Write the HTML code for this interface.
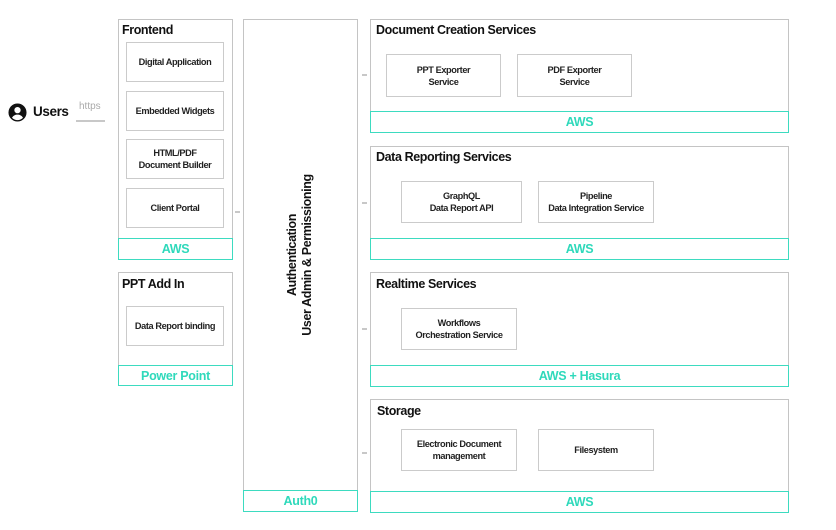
<!DOCTYPE html>
<html><head><meta charset="utf-8"><style>
body{margin:0;width:836px;height:530px;background:#fff;font-family:"Liberation Sans",sans-serif;position:relative;overflow:hidden}
.b{position:absolute;border:1.5px solid #c4c4c4;box-sizing:border-box}
.t{position:absolute;border:1.5px solid #3ddbc0;box-sizing:border-box;color:#2fd9bb;font-weight:bold;font-size:12.5px;display:flex;align-items:center;justify-content:center;letter-spacing:-0.3px}
.i{position:absolute;border:1.5px solid #cbcbcb;box-sizing:border-box;display:flex;align-items:center;justify-content:center;text-align:center;font-size:9.2px;font-weight:bold;line-height:12px;color:#222;letter-spacing:-0.4px}
.h{position:absolute;font-size:12.5px;font-weight:bold;color:#111;letter-spacing:-0.4px}
.d{position:absolute;width:5px;height:1.5px;background:#c8c8c8}
</style></head><body>
<svg style="position:absolute;left:8px;top:103px" width="19" height="19" viewBox="0 0 20 20"><circle cx="10" cy="10" r="9.5" fill="#111"/><circle cx="10" cy="7.5" r="3.3" fill="#fff"/><path d="M4.2 15.5c1.5-2.4 3.5-3.3 5.8-3.3s4.3.9 5.8 3.3c-1.6 1.6-3.6 2.5-5.8 2.5s-4.2-.9-5.8-2.5z" fill="#fff"/></svg>
<div class="h" style="left:33px;top:104px;font-size:13.5px">Users</div>
<div style="position:absolute;left:79px;top:101px;font-size:10px;color:#aaa">https</div>
<div style="position:absolute;left:76px;top:120px;width:29px;height:1.5px;background:#c8c8c8"></div>

<div class="b" style="left:118px;top:19px;width:115px;height:241px"></div>
<div class="h" style="left:122px;top:23px">Frontend</div>
<div class="i" style="left:126px;top:42px;width:98px;height:40px">Digital Application</div>
<div class="i" style="left:126px;top:91px;width:98px;height:40px">Embedded Widgets</div>
<div class="i" style="left:126px;top:139px;width:98px;height:40px">HTML/PDF<br>Document Builder</div>
<div class="i" style="left:126px;top:188px;width:98px;height:40px">Client Portal</div>
<div class="t" style="left:118px;top:238px;width:115px;height:22px">AWS</div>

<div class="b" style="left:118px;top:272px;width:115px;height:114px"></div>
<div class="h" style="left:122px;top:277px">PPT Add In</div>
<div class="i" style="left:126px;top:306px;width:98px;height:40px">Data Report binding</div>
<div class="t" style="left:118px;top:365px;width:115px;height:21px">Power Point</div>

<div class="d" style="left:235px;top:211px"></div>
<div class="b" style="left:243px;top:19px;width:115px;height:493px"></div>
<div style="position:absolute;left:300px;top:255px;width:0;height:0">
<div style="position:absolute;transform:translate(-50%,-50%) rotate(-90deg);white-space:nowrap;text-align:center;font-size:12.5px;font-weight:bold;line-height:15px;color:#111;letter-spacing:-0.4px">Authentication<br>User Admin &amp; Permissioning</div></div>
<div class="t" style="left:243px;top:490px;width:115px;height:22px">Auth0</div>

<div class="d" style="left:362px;top:74px"></div>
<div class="d" style="left:362px;top:202px"></div>
<div class="d" style="left:362px;top:328px"></div>
<div class="d" style="left:362px;top:452px"></div>

<div class="b" style="left:370px;top:19px;width:419px;height:114px"></div>
<div class="h" style="left:376px;top:23px">Document Creation Services</div>
<div class="i" style="left:386px;top:54px;width:115px;height:43px">PPT Exporter<br>Service</div>
<div class="i" style="left:517px;top:54px;width:115px;height:43px">PDF Exporter<br>Service</div>
<div class="t" style="left:370px;top:111px;width:419px;height:22px">AWS</div>

<div class="b" style="left:370px;top:146px;width:419px;height:114px"></div>
<div class="h" style="left:376px;top:150px">Data Reporting Services</div>
<div class="i" style="left:401px;top:181px;width:121px;height:42px">GraphQL<br>Data Report API</div>
<div class="i" style="left:538px;top:181px;width:116px;height:42px">Pipeline<br>Data Integration Service</div>
<div class="t" style="left:370px;top:238px;width:419px;height:22px">AWS</div>

<div class="b" style="left:370px;top:272px;width:419px;height:115px"></div>
<div class="h" style="left:376px;top:277px">Realtime Services</div>
<div class="i" style="left:401px;top:308px;width:116px;height:42px">Workflows<br>Orchestration Service</div>
<div class="t" style="left:370px;top:365px;width:419px;height:22px">AWS + Hasura</div>

<div class="b" style="left:370px;top:399px;width:419px;height:114px"></div>
<div class="h" style="left:377px;top:404px">Storage</div>
<div class="i" style="left:401px;top:429px;width:116px;height:42px">Electronic Document<br>management</div>
<div class="i" style="left:538px;top:429px;width:116px;height:42px">Filesystem</div>
<div class="t" style="left:370px;top:491px;width:419px;height:22px">AWS</div>
</body></html>
